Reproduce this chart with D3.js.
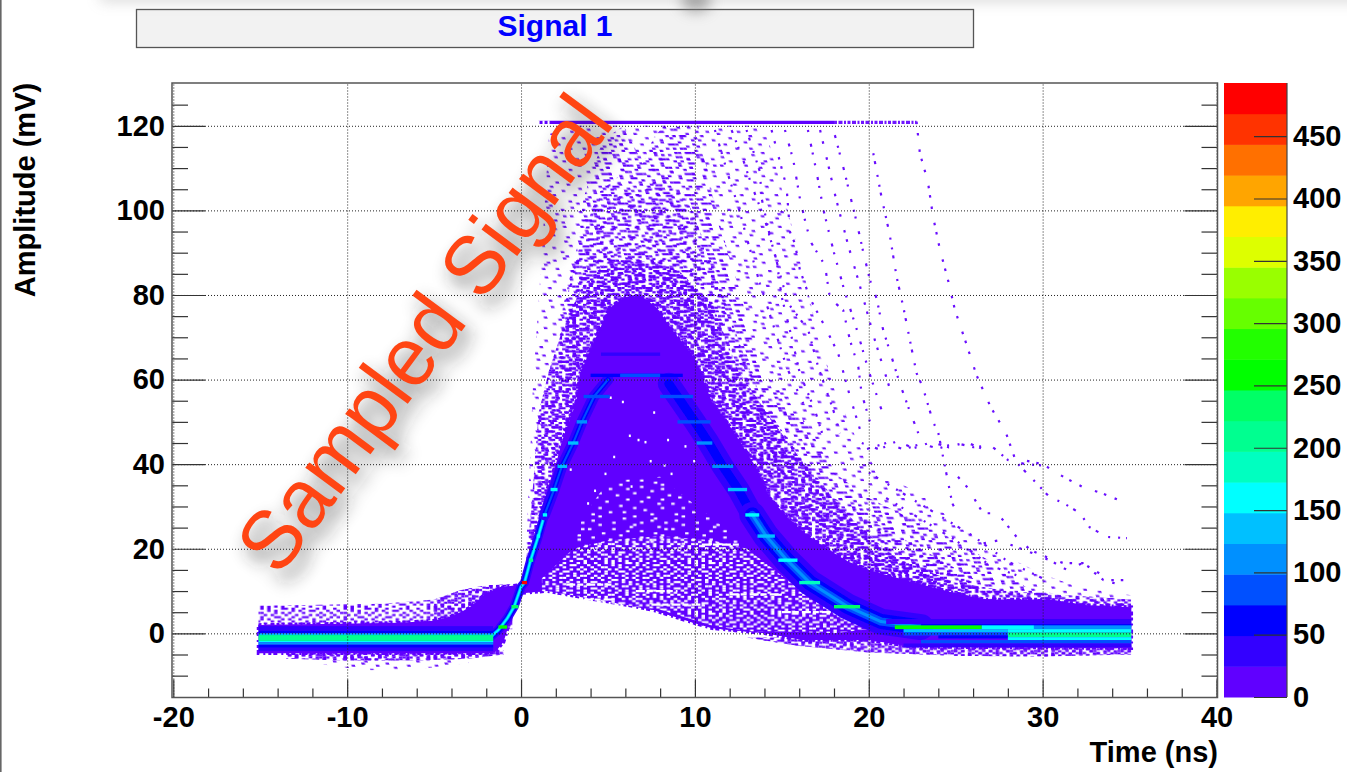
<!doctype HTML>
<html>
<head>
<meta charset="utf-8">
<script src="https://d3js.org/d3.v7.min.js"></script>
<style>
    body { margin: 0; background: #fff; }
    svg { display: block; }
    text { font-family: "Liberation Sans", Arial, sans-serif; font-weight: bold; fill: #000; }
    .axis text { font-size: 29px; font-family: "Liberation Sans", Arial, sans-serif; font-weight: bold; }
    .axis line { stroke: #333; stroke-width: 1.2; }
    .grid line { stroke: #222; stroke-width: 1; stroke-dasharray: 1 2; }
</style>
</head>
<body>
<script>
    // tick labels
    var xMajor = [-20, -10, 0, 10, 20, 30, 40];
    var xMinor = [-18, -16, -14, -12, -8, -6, -4, -2, 2, 4, 6, 8, 12, 14, 16, 18, 22, 24, 26, 28, 32, 34, 36, 38];
    var yMajor = [0, 20, 40, 60, 80, 100, 120];
    var yMinor = [-10, -5, 5, 10, 15, 25, 30, 35, 45, 50, 55, 65, 70, 75, 85, 90, 95, 105, 110, 115, 125];
    var zTicks = [0, 50, 100, 150, 200, 250, 300, 350, 400, 450];

    // palette of the colour bar, bottom to top
    var palette = ["#6000ff", "#3300ff", "#0000ff", "#0050ff", "#0090ff", "#00c0ff", "#00ffff", "#00ffc0", "#00ff90", "#00ff66",
        "#00ff00", "#22ff00", "#66ff00", "#99ff00", "#ddff00", "#ffee00", "#ffa500", "#ff7000", "#ff3300", "#ff0000"];

    // solid region of the histogram (ns, mV)
    var denseTopTime = [-15.1, -7, -5, -4, -3, -2, -1, 0, 0.2, 0.5, 1, 1.3, 1.5, 2, 2.4, 3.2, 3.4, 4.2, 5.1, 6, 7, 7.8, 8.7, 10, 11, 12, 12.8, 13.6, 14.3, 15.3, 16.5, 17.6, 18.8, 20, 22.6, 25, 26.7, 30.5, 32.4, 35.1];
    var denseTop = [2, 2.5, 3, 4, 6, 9.5, 11, 11.5, 12.6, 17, 23, 28, 34, 40, 46, 55, 61.5, 69, 77, 79.5, 79.5, 77, 71.7, 65, 54.5, 49, 44, 38.6, 32, 27.5, 23, 20, 17, 15, 12, 9.5, 8, 8, 6.7, 6.2];
    var denseBottomTime = [-15.1, -2, -1.5, -1, -0.45, 0, 1.5, 3.4, 5.7, 7.6, 10, 11, 14, 16.2, 20, 22.6, 35.1];
    var denseBottom = [-4.7, -4.7, -4.5, -2, 5.5, 9.5, 10, 8.6, 7, 5.5, 2.4, 1.2, 0, -1.6, -1.6, -3.2, -3.5];

    // speckled regions above the solid one
    var darkTime = [0.2, 0.6, 1, 1.6, 2.4, 3.5, 5, 7, 9, 11, 12.5, 14.5, 17, 19.5, 21.5, 25, 28, 35.1];
    var darkTop = [13, 30, 52, 62, 72, 82, 88, 88, 86, 78, 62, 50, 36, 25, 18, 12, 10, 8];
    var coreTime = [2.4, 3.4, 4.4, 5.6, 6.6, 8, 9.4, 10.6, 11.6, 12.8, 14, 16, 18, 20, 23, 26];
    var coreTop = [76, 92, 104, 108, 103, 108, 104, 92, 80, 66, 54, 42, 32, 27, 20, 13];
    var mediumTime = [0.2, 0.7, 1.1, 2, 2.4, 3.2, 3.6, 4.7, 5.9, 6.4, 7, 7.6, 8.2, 10.2, 11.2, 12.5, 13.8, 15, 16.5, 18, 20, 22.5, 25, 27, 29, 32, 35.1];
    var mediumTop = [12, 30, 45, 61.5, 77, 91, 103, 116.6, 120, 116, 111, 117, 120, 120, 100, 82, 62, 57, 49, 38, 32, 27, 22, 17, 11, 8, 7];
    var lightTime = [0.3, 0.7, 1.2, 1.6, 3, 4, 10, 14, 15, 16, 17, 18, 19.5, 21, 23, 25, 28, 30, 32, 35.1];
    var lightTop = [20, 60, 90, 118, 120, 120, 120, 120, 105, 90, 72, 58, 44, 37, 33, 26, 18, 14, 11, 9];

    // fringe around the baseline
    var preTime = [-15.1, -8, -5, -3.5, -2, -0.5];
    var preTop = [6.5, 7, 8, 10.2, 11.4, 11.6];
    var preLowTime = [-13.5, -10, -6, -3, -1];
    var preLow = [-6, -6.4, -6.4, -6, -5];
    var preFarTime = [-12, -9, -6, -3];
    var preFar = [-7, -8.7, -8.5, -7];
    var postLowTime = [13, 16, 20, 25, 30, 35.1];
    var postLow = [-1, -3, -4.5, -5.3, -5.5, -5];

    // white gaps inside the solid region
    var gapTime = [1.2, 3, 5, 8, 11, 13, 15.5, 18, 20];
    var gapTop = [13, 20, 22, 23, 22, 20, 12, 5, 2];
    var gapBottom = [10, 9, 7.2, 5.6, 1.8, 0.5, 0.4, 0, 1];
    var gapHighTime = [3, 3.5, 5, 8, 9.5, 12, 13];
    var gapHigh = [20, 27, 36, 37, 32, 24, 20];
    var streakStart = [10.4, 6.6, 2.6, 15, 7.5, 3.6, 12];
    var streakEnd = [12.6, 9, 5.2, 18, 10.5, 5.4, 15];
    var streakLevel = [21, 10, 11.5, 5, 6.8, 8, 9.2];
    var holeTime = [2.8, 5.8, 6.2, 6.7, 7.1, 8.4, 9.4, 5.3, 4.8, 7.4, 8.2, 4.2, 3.8, 6.3, 9.9, 5.1, 7.6, 8.6];
    var holeAmp = [39, 55, 47, 46, 45.5, 46, 44.5, 42, 38, 41, 40, 34, 31, 35, 41, 56, 52.5, 38];

    // pulses that leave the band, one list per pulse [ns, mV]
    var pulseA = [[22.75, 121], [22.94, 113.5], [23.4, 106.8], [23.7, 98.5], [24.1, 90.6], [24.56, 83.5], [24.96, 76.4], [25.6, 68.6], [26.2, 61], [27, 53.6], [27.9, 47.3], [28.4, 41.4], [30, 40], [31.2, 37], [32.3, 34.6], [33.5, 33], [34.85, 30.7]];
    var pulseB = [[20.26, 113.5], [20.74, 103], [21.2, 94.4], [21.6, 84.3], [22, 76.9], [22.4, 68.6], [22.75, 61.5], [23.1, 58.3], [23.7, 50], [24, 47.4], [24.8, 30.8], [25.13, 28]];
    var pulseC = [[18.05, 117.8], [18.3, 113.9], [18.63, 108.7], [19, 102.3], [19.3, 97.3], [19.68, 90.2], [20.07, 83.5], [20.45, 79.2], [20.83, 71.7], [21.25, 66.2], [21.79, 59], [22.37, 52.4], [22.85, 47.3]];
    var pulseD = [[15.18, 119], [15.66, 111.9], [16.04, 102.8], [16.42, 96.1], [16.71, 92.2], [17.48, 87], [17.77, 79.2], [18.53, 76.4], [18.92, 69.3], [19.4, 63], [19.59, 56.7], [20.07, 50]];
    var pulseE = [[14.41, 119], [14.89, 111.5], [15.27, 105.6], [15.47, 94.9], [15.75, 92.2], [16.04, 85.9], [16.62, 79.2], [17.48, 72.5], [18.24, 66.2], [18.92, 56], [19.68, 45.7]];
    var pulseF = [[12.97, 119], [13.74, 109.1], [13.84, 102.8], [14.32, 93.8], [14.89, 85], [15.37, 78], [16.52, 71.7], [17.09, 63], [17.96, 52.8], [18.34, 47.3]];
    var pulseG = [[12.11, 119], [12.78, 111.9], [13.26, 106], [14.03, 97.7], [14.7, 88.2], [14.99, 79.6], [15.56, 70.1], [16.04, 61.4], [16.9, 52.8], [17.38, 46.5]];
    var pulseH = [[11.15, 119], [11.92, 108.3], [12.5, 100.8], [13.07, 92.2], [13.74, 82.7], [14.6, 71.7], [15.27, 63], [16.23, 54.4]];
    var pulseI = [[25.13, 37], [25.7, 34.4], [26.57, 28.4], [27.4, 28.4], [28.5, 22.8], [29.3, 19.7], [30.25, 18], [31.2, 16.6], [32.3, 16.6], [33.5, 12.6], [34.85, 11]];
    var pulseJ = [[28.6, 40], [29.85, 34.6], [30.4, 32.2], [31.2, 30.8], [32.15, 28.4], [32.7, 25.1], [33.7, 22.8], [34.85, 22.5]];
    var pulseK = [[19.9, 43.6], [21, 45], [22, 43.5], [23, 44.8], [24, 43.7], [25, 45], [26, 44], [27, 44.5], [28, 41], [29, 40], [30, 39.7]];
    var pulseL = [[19.6, 45], [20.6, 43.5], [21.6, 45.4], [22.6, 43.8], [23.6, 45.2], [24.6, 44], [25.6, 45.2], [26.6, 43.5]];
    var pulseM = [[26.6, 21.3], [27.5, 22], [28.5, 20.4], [29.4, 19], [30.4, 17.3], [31.4, 15], [32.3, 16.6], [33.9, 12.6], [34.9, 12.6]];
    var pulseN = [[20, 38], [22, 33], [24, 28], [26, 23], [28, 17], [30, 13]];
    var pulseO = [[21, 32], [23, 27], [25, 22], [27, 16], [29, 13]];
    var pulseP = [[16.5, 119], [17, 109], [17.4, 100], [18, 90], [18.6, 81], [19.3, 72], [20, 62], [20.8, 52]];
    var pulseQ = [[17.2, 119], [17.6, 112], [18.1, 103], [18.8, 92], [19.5, 82], [20.3, 70], [21.2, 58]];
    var pulses = [pulseA, pulseB, pulseC, pulseD, pulseE, pulseF, pulseG, pulseH, pulseI, pulseJ, pulseK, pulseL, pulseM, pulseN, pulseO, pulseP, pulseQ];

    // ridge of the most probable pulse
    var riseLow = [[-1.8, -1], [-1.3, 0.8], [-0.8, 3.5], [-0.4, 6.3], [0, 11], [0.2, 12], [0.55, 17.3], [1, 23], [1.35, 28]];
    var riseHigh = [[1.35, 28], [1.9, 34], [2.35, 39.5], [3, 45], [3.5, 50], [4.2, 56], [5, 60]];
    var fallHigh = [[8.5, 59], [9, 56], [10, 50], [10.8, 45], [11.6, 39.5], [12.5, 34], [13.3, 28]];
    var fallLow = [[13.3, 28], [14.1, 23], [15.3, 17.3], [16.6, 12], [18.8, 6.3], [20.7, 2.8], [23, 1.5]];

    // filled bins: start, end, low, high, content
    var binStart = [-15.1, -15.1, -15.1, -15.1, -15.1, -15.1, -15.1, -15.1,
        21, 23, 21.5, 26.5, 29.5, 22, 28, 22, 28, 24, 28, 23, 22,
        4.6, 4, 5.7, 3.6, 8, 3.2, 9, 2.7, 10.1, 2.1, 11, 1.7, 11.9, 1.25, 12.9, 0.9, 13.6, 0.45, 14.8, 0.05, 16, -0.55, 18, -1.3];
    var binEnd = [-1.6, -1.6, -1.6, -1.6, -1.6, -1.6, -1.6, -1.6,
        35.1, 35.1, 26.5, 29.5, 35.1, 28, 35.1, 28, 35.1, 28, 35.1, 35.1, 35.1,
        8, 9.3, 8, 5.1, 9.9, 3.8, 10.9, 3.3, 11, 2.65, 12.2, 2.1, 13, 1.5, 13.7, 1.1, 14.6, 0.7, 15.9, 0.35, 17.2, -0.15, 19.5, -0.8];
    var binLow = [0.6, 0, -0.4, -1.8, -2.1, -2.7, -3.4, -4.2,
        2.2, 1.6, 1, 1, 1, 0.2, 0.2, -0.5, -0.9, -1.2, -1.6, -2.4, -3.3,
        65.6, 60.6, 60.6, 55.6, 55.6, 49.6, 49.6, 44.6, 44.6, 39.1, 39.1, 33.6, 33.6, 27.6, 27.6, 22.6, 22.6, 16.9, 16.9, 11.6, 11.6, 5.9, 5.9, 1.1];
    var binHigh = [1.7, 0.6, 0, -0.4, -1.8, -2.1, -2.7, -3.4,
        3.4, 2.2, 1.9, 1.9, 1.9, 1, 1, 0.2, 0.2, -0.5, -0.9, -1.6, -2.4,
        66.4, 61.4, 61.4, 56.4, 56.4, 50.4, 50.4, 45.4, 45.4, 39.9, 39.9, 34.4, 34.4, 28.4, 28.4, 23.4, 23.4, 17.7, 17.7, 12.4, 12.4, 6.7, 6.7, 1.9];
    var binCount = [30, 60, 130, 210, 160, 110, 60, 30,
        30, 60, 265, 170, 100, 130, 150, 90, 215, 60, 160, 75, 30,
        35, 60, 90, 90, 80, 100, 90, 125, 110, 140, 110, 150, 135, 165, 150, 150, 140, 210, 165, 470, 185, 230, 240, 250];

    var tileA = [
        "#..#.#...##.#..#...#.#..", ".#...#.#....#.#..##...#.", "..##...#.#.#...#....#..#", "#...#.#...#..#...#.#.#..",
        ".#.#...##...#..##...#..#", "...#.#...#.#..#...#...#.", "#.#...#.#...#...#.#.##..", ".#..#....#.#..##...#...#",
        "..#..##.#...#....#...#..", "#...#...#.#...#.#..#.#.#", ".#.#..#...#.#..#.#....#.", "...#.#..##...#...#.#.#..",
        "#.#...#....#.#.#...#...#", ".#..#..#.#...#..##...#..", "..#...#..#.#...#...#.#.#", "#...##...#..#.#..#....#.",
        ".#.#...#...#...#.#.#.#..", "...#.#..#.#.##.....#...#", "#.#..#.....#..#.#...#.#.", ".#...#.##...#...#.#...#.",
        "..##...#..#..#.#...#.#..", "#...#.#..#..#...#.#...#.", ".#.#...#...#.#.#...##..#", "...#.#.#.#...#...#...#.."];
    var tileC = [
        "...#.........#..........", "..........#........#....", ".#................#.....", ".......#.......#......#.",
        "...#.........#..........", "............#.......#...", "#......#..............#.", "...........#...#........",
        "....#..............#....", ".........#...........#..", ".#.............#........", "......#....#.........#..",
        "..................#.....", "...#.........#..........", "........#..............#", "..#..............#......",
        "...........#.........#..", ".....#.........#........", "#...................#...", ".........#..............",
        "...#.........#.......#..", "................#.......", "......#...#.............", ".#................#....."];
    var tileD = [
        "##....#.....#..###.....#", "......#.#.........#.....", "..#.........##..........", "#...#..###.....#...#....",
        "...........#.......#.#..", ".##....#.......##.......", "....#.......#.......##..", "#.......##.....#........",
        "...###.......#.....#...#", ".........#..........#...", "#....#.......###.......#", "..#.....#.........#.....",
        "......##...#...#.....##.", "#.............#.........", "...#..#..##.........#...", ".......................#",
        ".#.....#.....#.##.......", "...##.......#......#....", ".........#........#...#.", "#....##.......#.........",
        "...#.......##.....#..#..", ".......#...........#....", ".##.........#.##......#.", ".....#..#............#.."];

    var width = 1347, height = 772;
    var plotLeft = 172, plotRight = 1217.5, plotTop = 83, plotBottom = 697.5;
    var purple = "#6000ff";

    var x = d3.scaleLinear().domain([-20, 40]).range([173.3, 1216.5]);
    var y = d3.scaleLinear().domain([-15, 130]).range([696.8, 83.5]);
    var z = d3.scaleLinear().domain([0, 492.7]).range([697, 83]);
    var colour = d3.scaleQuantize().domain([0, 492.7]).range(palette);

    var svg = d3.select("body").append("svg").attr("width", width).attr("height", height);
    var defs = svg.append("defs");

    defs.append("filter").attr("id", "soft").append("feGaussianBlur").attr("stdDeviation", 0.4);
    defs.append("filter").attr("id", "shadow")
        .attr("x", "-20%").attr("y", "-20%").attr("width", "140%").attr("height", "140%")
        .append("feGaussianBlur").attr("stdDeviation", 9);
    defs.append("filter").attr("id", "smudge")
        .attr("x", "-100%").attr("y", "-200%").attr("width", "300%").attr("height", "500%")
        .append("feGaussianBlur").attr("stdDeviation", 7);

    function makeTile(id, rows, colourName, transform) {
        var w = 3.47, h = 2.11;
        var p = defs.append("pattern").attr("id", id)
            .attr("patternUnits", "userSpaceOnUse")
            .attr("width", w * rows[0].length).attr("height", h * rows.length);
        if (transform) p.attr("patternTransform", transform);
        rows.forEach(function(row, j) {
            row.split("").forEach(function(c, i) {
                if (c === "#") p.append("rect").attr("x", i * w).attr("y", j * h).attr("width", w).attr("height", h).attr("fill", colourName);
            });
        });
    }
    makeTile("speckA", tileA, purple, null);
    makeTile("speckB", tileA, purple, "translate(31,13) scale(-1,1)");
    makeTile("speckD", tileD, purple, "skewX(18)");
    makeTile("speckE", tileD, purple, "translate(17,7) scale(-1,1)");
    makeTile("speckC", tileC, "#7018ff", "skewX(18)");
    makeTile("gapA", tileA, "#fff", "translate(11,5)");
    makeTile("gapC", tileC, "#fff", "translate(5,9)");

    // region above the lower edge of the solid part, keeps the speckle out of the white hollow
    var floorPoints = d3.zip(denseBottomTime, denseBottom).concat([[35.1, 130], [-15.1, 130]]);
    var pulseLine = d3.line().x(function(d) { return x(d[0]); }).y(function(d) { return y(d[1]); });
    defs.append("clipPath").attr("id", "aboveFloor").append("path").attr("d", pulseLine(floorPoints) + "Z");

    // left page border
    svg.append("rect").attr("x", 0).attr("y", 0).attr("width", 1.6).attr("height", height).attr("fill", "#666");

    // title box
    svg.append("rect").attr("x", 136.5).attr("y", 9.5).attr("width", 837).attr("height", 38)
        .attr("fill", "#f2f2f2").attr("stroke", "#555").attr("stroke-width", 1.3);
    svg.append("text").attr("x", 555).attr("y", 36).attr("text-anchor", "middle")
        .style("font-size", "30px").style("fill", "#0000ff").text("Signal 1");

    // histogram
    var hist = svg.append("g").attr("filter", "url(#soft)");
    var upper = hist.append("g").attr("clip-path", "url(#aboveFloor)");

    function band(parent, times, uppers, lower, fill) {
        var lowers = Array.isArray(lower);
        var area = d3.area()
            .x(function(d, i) { return x(times[i]); })
            .y0(function(d, i) { return y(lowers ? lower[i] : lower); })
            .y1(function(d, i) { return y(uppers[i]); });
        parent.append("path").attr("d", area(times)).attr("fill", fill);
    }

    band(upper, lightTime, lightTop, 0, "url(#speckC)");
    band(upper, mediumTime, mediumTop, 0, "url(#speckD)");
    band(upper, coreTime, coreTop, 0, "url(#speckE)");
    band(upper, darkTime, darkTop, 0, "url(#speckA)");
    band(upper, darkTime, darkTop, 0, "url(#speckD)");
    band(hist, preTime, preTop, 1, "url(#speckA)");
    band(hist, preTime.slice(2), preTop.slice(2), 1, "url(#speckB)");
    band(hist, preLowTime, preLow, -4, "url(#speckA)");
    band(hist, preLowTime, preLow, -4, "url(#speckB)");
    band(hist, preFarTime, preFar, -5, "url(#speckC)");
    band(hist, postLowTime, postLow, -1, "url(#speckA)");
    band(hist, postLowTime, postLow, -1, "url(#speckB)");

    // pulses above the band
    var pulseDash = ["2.5 9 2.5 14 2.5 7", "2 6 3 11 2 8", "3 8 2 5 2 13", "2 12 3 6 2 9"];
    hist.selectAll(".pulse").data(pulses).enter().append("path")
        .attr("class", "pulse")
        .attr("d", pulseLine)
        .attr("fill", "none")
        .attr("stroke", "#6a10ff")
        .attr("stroke-width", 2.2)
        .attr("stroke-dasharray", function(d, i) { return pulseDash[i % pulseDash.length]; });

    // saturated ADC line at the top
    var satLevel = [120.8];
    hist.append("line").attr("x1", x(1)).attr("x2", x(18)).attr("y1", y(satLevel[0])).attr("y2", y(satLevel[0]))
        .attr("stroke", purple).attr("stroke-width", 3.4);
    hist.append("line").attr("x1", x(0.95)).attr("x2", x(1.8)).attr("y1", y(satLevel[0])).attr("y2", y(satLevel[0]))
        .attr("stroke", "#fff").attr("stroke-width", 4).attr("stroke-dasharray", "2 3");
    hist.append("line").attr("x1", x(18)).attr("x2", x(22.75)).attr("y1", y(satLevel[0])).attr("y2", y(satLevel[0]))
        .attr("stroke", "#7018ff").attr("stroke-width", 3.4).attr("stroke-dasharray", "3 1.5 4 1.5 2 1.5");

    // solid region
    var outline = d3.zip(denseTopTime, denseTop).concat(d3.zip(denseBottomTime, denseBottom).reverse());
    hist.append("path").attr("d", pulseLine(outline) + "Z").attr("fill", purple)
        .attr("stroke", purple).attr("stroke-width", 3.5).attr("stroke-dasharray", "3 3 2 4 4 2");

    // gaps in it
    band(hist, gapTime, gapTop, gapBottom, "url(#gapA)");
    band(hist, gapHighTime, gapHigh, 20, "url(#gapC)");
    hist.selectAll(".streak").data(streakStart).enter().append("line")
        .attr("class", "streak")
        .attr("x1", function(d) { return x(d); })
        .attr("x2", function(d, i) { return x(streakEnd[i]); })
        .attr("y1", function(d, i) { return y(streakLevel[i]); })
        .attr("y2", function(d, i) { return y(streakLevel[i]); })
        .attr("stroke", "#fff").attr("stroke-width", 2.2).attr("stroke-dasharray", "9 2 6 3");
    hist.selectAll(".hole").data(holeTime).enter().append("rect")
        .attr("class", "hole")
        .attr("x", function(d) { return x(d); })
        .attr("y", function(d, i) { return y(holeAmp[i]); })
        .attr("width", 2).attr("height", 2.5).attr("fill", "#fff");

    // ridge
    function ridge(points, levels) {
        levels.forEach(function(l) {
            hist.append("path").attr("d", pulseLine(points)).attr("fill", "none")
                .attr("stroke", colour(l[0])).attr("stroke-width", l[1])
                .attr("stroke-linecap", "round").attr("stroke-linejoin", "round");
        });
    }
    ridge(riseLow, [[30, 9], [60, 6], [110, 3.5], [160, 1.8]]);
    ridge(riseHigh, [[30, 11], [60, 5], [85, 2]]);
    ridge(fallHigh, [[30, 22], [60, 9]]);
    ridge(fallLow, [[30, 26], [60, 15], [85, 8], [110, 3]]);

    // filled bins
    hist.selectAll(".bin").data(binCount).enter().append("rect")
        .attr("class", "bin")
        .attr("x", function(d, i) { return x(binStart[i]); })
        .attr("width", function(d, i) { return x(binEnd[i]) - x(binStart[i]); })
        .attr("y", function(d, i) { return y(binHigh[i]); })
        .attr("height", function(d, i) { return y(binLow[i]) - y(binHigh[i]); })
        .attr("fill", function(d) { return colour(d); });

    // grid
    svg.append("g").attr("class", "grid").attr("transform", "translate(" + plotLeft + ",0)")
        .call(d3.axisLeft(y).tickValues(yMajor).tickSize(-(plotRight - plotLeft)).tickFormat(""))
        .call(function(g) { g.select(".domain").remove(); });
    svg.append("g").attr("class", "grid").attr("transform", "translate(0," + plotBottom + ")")
        .call(d3.axisBottom(x).tickValues(xMajor).tickSize(-(plotBottom - plotTop)).tickFormat(""))
        .call(function(g) { g.select(".domain").remove(); });

    // axes
    function axis(generator, tx, ty) {
        svg.append("g").attr("class", "axis").attr("transform", "translate(" + tx + "," + ty + ")")
            .call(generator)
            .call(function(g) { g.select(".domain").remove(); });
    }
    function plain(d) { return String(d); }
    axis(d3.axisLeft(y).tickValues(yMajor).tickSize(-33).tickPadding(7).tickFormat(plain), plotLeft, 0);
    axis(d3.axisLeft(y).tickValues(yMinor).tickSize(-16).tickFormat(""), plotLeft, 0);
    axis(d3.axisRight(y).tickValues(yMajor).tickSize(-33).tickFormat(""), plotRight, 0);
    axis(d3.axisRight(y).tickValues(yMinor).tickSize(-16).tickFormat(""), plotRight, 0);
    axis(d3.axisBottom(x).tickValues(xMajor).tickSize(-18).tickPadding(9).tickFormat(plain), 0, plotBottom);
    axis(d3.axisBottom(x).tickValues(xMinor).tickSize(-9).tickFormat(""), 0, plotBottom);

    svg.append("rect").attr("x", plotLeft).attr("y", plotTop).attr("width", plotRight - plotLeft).attr("height", plotBottom - plotTop)
        .attr("fill", "none").attr("stroke", "#555").attr("stroke-width", 1.5);

    // colour bar
    var step = 492.7 / palette.length;
    svg.selectAll(".zband").data(palette).enter().append("rect")
        .attr("class", "zband")
        .attr("x", 1224).attr("width", 63)
        .attr("y", function(d, i) { return z((i + 1) * step); })
        .attr("height", function(d, i) { return z(i * step) - z((i + 1) * step) + 0.5; })
        .attr("fill", function(d) { return d; });
    axis(d3.axisRight(z).tickValues(zTicks).tickSize(-33).tickPadding(6), 1287, 0);
    svg.append("line").attr("x1", 1287).attr("x2", 1287).attr("y1", 83).attr("y2", 697).attr("stroke", "#444").attr("stroke-width", 1.2);

    // axis titles
    svg.append("text").attr("transform", "translate(35,190) rotate(-90)").attr("text-anchor", "middle")
        .style("font-size", "29px").text("Amplitude (mV)");
    svg.append("text").attr("x", 1218).attr("y", 762).attr("text-anchor", "end")
        .style("font-size", "29px").text("Time (ns)");

    // smudges left at the top by the slide above
    svg.append("rect").attr("x", 100).attr("y", -12).attr("width", 1300).attr("height", 14)
        .attr("fill", "#999").attr("opacity", 0.35).attr("filter", "url(#smudge)");
    svg.append("ellipse").attr("cx", 696).attr("cy", 0).attr("rx", 15).attr("ry", 12)
        .attr("fill", "#777").attr("opacity", 0.6).attr("filter", "url(#smudge)");

    // annotation pasted over the plot
    var label = "Sampled Signal";
    svg.append("text").attr("transform", "translate(285,588) rotate(-53.5)")
        .attr("textLength", 566).attr("lengthAdjust", "spacingAndGlyphs")
        .style("font-weight", "normal").style("font-size", "84px").style("fill", "#222")
        .attr("opacity", 0.6).attr("filter", "url(#shadow)").text(label);
    svg.append("text").attr("transform", "translate(279,578) rotate(-53.5)")
        .attr("textLength", 566).attr("lengthAdjust", "spacingAndGlyphs")
        .style("font-weight", "normal").style("font-size", "84px").style("fill", "#ff4513")
        .text(label);
</script>
</body>
</html>
